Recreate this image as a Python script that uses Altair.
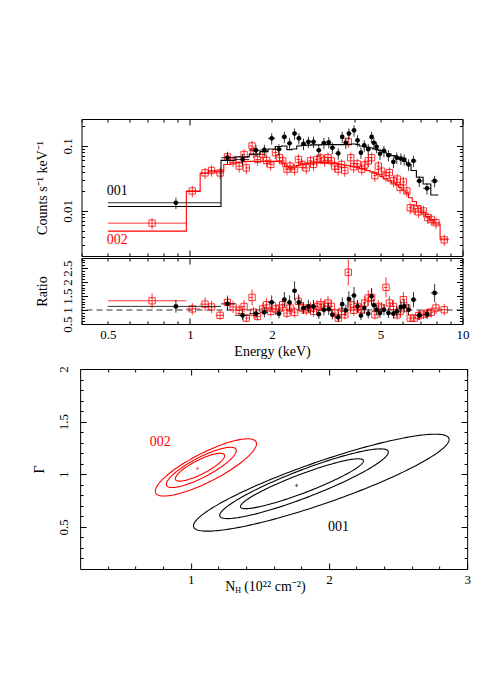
import numpy as np
import pandas as pd
import altair as alt

FONT = "Liberation Serif"
RED = "#ff0000"
BLACK = "#000000"

# ---------------- spectrum 001 (black) ----------------
energy_001 = [0.888, 1.373, 1.56, 1.747, 1.875, 1.995, 2.12, 2.22, 2.32, 2.42, 2.51, 2.61,
              2.72, 2.84, 2.97, 3.10, 3.23, 3.33, 3.50, 3.62, 3.73, 3.83, 4.00, 4.12, 4.24,
              4.36, 4.51, 4.64, 4.73, 4.84, 4.98, 5.15, 5.35, 5.58, 5.74, 5.94, 6.11, 6.34,
              6.61, 6.94, 7.41, 7.90]
counts_001 = [0.0134, 0.066, 0.062, 0.086, 0.087, 0.131, 0.089, 0.138, 0.110, 0.155, 0.131,
              0.108, 0.116, 0.116, 0.086, 0.111, 0.114, 0.094, 0.077, 0.138, 0.112, 0.155,
              0.174, 0.122, 0.079, 0.102, 0.089, 0.138, 0.112, 0.097, 0.076, 0.084, 0.072,
              0.057, 0.066, 0.064, 0.062, 0.052, 0.059, 0.029, 0.0223, 0.029]
model_001 = [0.0117, 0.060, 0.068, 0.075, 0.082, 0.090, 0.098, 0.100, 0.088, 0.090, 0.100,
             0.102, 0.103, 0.104, 0.104, 0.105, 0.105, 0.105, 0.105, 0.105, 0.106, 0.106,
             0.107, 0.106, 0.100, 0.098, 0.095, 0.093, 0.090, 0.088, 0.085, 0.081, 0.076,
             0.071, 0.067, 0.062, 0.058, 0.052, 0.042, 0.033, 0.026, 0.0176]
ratio_001 = [1.13, 1.22, 0.81, 0.87, 0.92, 1.27, 0.87, 1.37, 1.27, 1.69, 1.27, 1.07, 1.13,
             1.13, 0.85, 1.01, 1.03, 0.83, 0.74, 1.21, 0.99, 1.39, 1.52, 1.13, 0.80, 1.07,
             0.87, 1.49, 1.17, 1.01, 0.89, 1.01, 0.89, 0.87, 0.95, 1.11, 1.13, 1.01, 1.37,
             0.81, 0.85, 1.61]
first_edges_001 = [0.5, 1.3]
last_edge_001 = 8.15
rel_err_001 = 0.2

# ---------------- spectrum 002 (red) ----------------
energy_002 = [0.726, 1.02, 1.136, 1.20, 1.29, 1.373, 1.44, 1.516, 1.58, 1.61, 1.69, 1.71,
              1.77, 1.85, 1.91, 1.98, 2.06, 2.13, 2.19, 2.27, 2.33, 2.42, 2.50, 2.58, 2.67,
              2.77, 2.84, 2.92, 3.02, 3.12, 3.21, 3.30, 3.40, 3.50, 3.60, 3.70, 3.81, 3.89,
              3.99, 4.11, 4.27, 4.38, 4.51, 4.64, 4.77, 4.91, 5.05, 5.24, 5.39, 5.58, 5.76,
              5.90, 6.07, 6.25, 6.43, 6.65, 6.90, 7.19, 7.46, 7.68, 7.99, 8.57]
counts_002 = [0.0065, 0.0203, 0.0385, 0.042, 0.0385, 0.068, 0.059, 0.049, 0.074, 0.046,
              0.100, 0.082, 0.062, 0.074, 0.060, 0.052, 0.079, 0.066, 0.059, 0.044, 0.049,
              0.044, 0.062, 0.052, 0.046, 0.059, 0.052, 0.062, 0.065, 0.060, 0.066, 0.059,
              0.049, 0.044, 0.052, 0.042, 0.116, 0.066, 0.048, 0.053, 0.044, 0.051, 0.059,
              0.066, 0.035, 0.049, 0.041, 0.035, 0.039, 0.029, 0.031, 0.023, 0.028, 0.0203,
              0.0112, 0.0108, 0.0097, 0.0100, 0.0079, 0.0074, 0.0066, 0.0036]
model_002 = [0.0049, 0.020, 0.038, 0.040, 0.041, 0.052, 0.055, 0.056, 0.057, 0.058, 0.058,
             0.058, 0.058, 0.058, 0.058, 0.057, 0.058, 0.058, 0.055, 0.048, 0.046, 0.047,
             0.050, 0.053, 0.054, 0.055, 0.055, 0.055, 0.056, 0.056, 0.056, 0.055, 0.054,
             0.053, 0.052, 0.051, 0.050, 0.049, 0.048, 0.047, 0.045, 0.044, 0.042, 0.040,
             0.038, 0.036, 0.034, 0.031, 0.029, 0.027, 0.025, 0.023, 0.021, 0.019, 0.016,
             0.014, 0.012, 0.0095, 0.0082, 0.0073, 0.0063, 0.0037]
ratio_002 = [1.33, 1.04, 1.21, 1.11, 0.81, 1.27, 1.11, 0.99, 1.13, 0.71, 1.45, 0.92, 0.77,
             1.04, 1.19, 0.95, 1.04, 1.07, 1.19, 0.89, 1.07, 0.92, 1.31, 1.07, 1.01, 1.07,
             0.95, 1.13, 1.19, 1.13, 1.25, 1.13, 0.89, 0.71, 0.95, 0.83, 2.35, 1.19, 0.99,
             1.13, 1.01, 1.25, 1.43, 1.45, 0.83, 1.13, 1.07, 1.81, 1.25, 1.13, 0.83, 0.95,
             1.37, 1.07, 0.71, 0.71, 0.80, 0.85, 0.89, 0.92, 1.07, 1.01]
first_edges_002 = [0.5, 0.97, 1.09]
last_edge_002 = 8.9
rel_err_002 = 0.2

# labels in spectrum panel (energy, counts)
spec_labels = ["001", "002"]
spec_label_e = [0.541, 0.541]
spec_label_c = [0.0203, 0.00354]

# ---------------- confidence contours ----------------
# ellipse: centre (cx, cy), conjugate half-diameters (ax, ay) and (0, b)
cont_series = ["001", "001", "001", "002", "002", "002"]
cont_cx = [1.805, 1.82, 1.945, 1.067, 1.077, 1.11]
cont_cy = [0.91, 0.91, 0.92, 1.067, 1.065, 1.065]
cont_ax = [0.445, 0.61, 0.925, 0.178, 0.253, 0.366]
cont_ay = [0.217, 0.30, 0.41, 0.109, 0.16, 0.225]
cont_b = [0.095, 0.14, 0.21, 0.075, 0.105, 0.153]
best_series = ["001", "002"]
best_nh = [1.766, 1.048]
best_gamma = [0.894, 1.055]
cont_label_text = ["002", "001"]
cont_label_nh = [0.78, 2.07]
cont_label_gamma = [1.305, 0.497]


def bin_edges(E, first_edges, last_edge):
    E = np.asarray(E, float)
    edges = np.empty(len(E) + 1)
    edges[1:-1] = np.sqrt(E[:-1] * E[1:])
    edges[-1] = last_edge
    for i, v in enumerate(first_edges):
        edges[i] = v
    return edges


def spectrum_frames(E, C, M, R, first_edges, last_edge, rel):
    ed = bin_edges(E, first_edges, last_edge)
    C = np.asarray(C, float)
    R = np.asarray(R, float)
    pts = pd.DataFrame({
        "E": E, "lo": ed[:-1], "hi": ed[1:],
        "C": C, "Clo": C * (1 - rel), "Chi": C * (1 + rel),
        "R": R, "Rlo": R * (1 - rel), "Rhi": R * (1 + rel),
    })
    rows = []
    for i in range(len(E)):
        rows.append({"E": ed[i], "M": M[i], "o": 2 * i})
        rows.append({"E": ed[i + 1], "M": M[i], "o": 2 * i + 1})
    return pts, pd.DataFrame(rows)


pts1, step1 = spectrum_frames(energy_001, counts_001, model_001, ratio_001,
                              first_edges_001, last_edge_001, rel_err_001)
pts2, step2 = spectrum_frames(energy_002, counts_002, model_002, ratio_002,
                              first_edges_002, last_edge_002, rel_err_002)

# ---------------- axes helpers ----------------
MAJ, MIN = 6, 3


def tick_axis(orient, offset, values, size):
    return alt.Axis(orient=orient, offset=offset, values=values, tickSize=size,
                    labels=False, domain=False, grid=False, title=None,
                    ticks=True, tickColor="black", tickWidth=1)


def lab_axis_x(values, title):
    return alt.Axis(orient="bottom", values=values, ticks=False, tickSize=0, domain=False,
                    grid=False, title=title, format="~g", labelFontSize=13,
                    titleFontSize=14, labelPadding=4, titlePadding=3,
                    labelOverlap=False, labelFlush=False)


def lab_axis_y(values, title, lpad, tpad):
    return alt.Axis(orient="left", values=values, ticks=False, tickSize=0, domain=False,
                    grid=False, title=title, format="~g", labelFontSize=13,
                    titleFontSize=14, labelPadding=lpad, titlePadding=tpad,
                    labelAngle=270, labelAlign="center", labelBaseline="bottom",
                    labelOverlap=False, labelFlush=False)


def panel(data_layers, xs, ys, w, h, xlab, ylab, xmaj, xmin, ymaj, ymin, anchor):
    def inv(xa, ya):
        return alt.Chart(anchor).mark_point(opacity=0).encode(
            x=alt.X("ax:Q", scale=xs, axis=xa),
            y=alt.Y("ay:Q", scale=ys, axis=ya))
    layers = list(data_layers) + [
        inv(xlab, ylab),
        inv(tick_axis("top", -h, xmaj, MAJ), tick_axis("right", -w, ymaj, MAJ)),
        inv(tick_axis("top", -h, xmin, MIN), tick_axis("right", -w, ymin, MIN)),
        inv(tick_axis("bottom", -h, xmaj, MAJ), tick_axis("left", -w, ymaj, MAJ)),
        inv(tick_axis("bottom", -h, xmin, MIN), tick_axis("left", -w, ymin, MIN)),
    ]
    return alt.layer(*layers).resolve_axis(x="independent", y="independent").properties(
        width=w, height=h)


W1, H1, H2 = 381, 137, 66
W3, H3 = 387, 200

xE = alt.Scale(type="log", domain=[0.4, 10], nice=False)
yC = alt.Scale(type="log", domain=[0.00203, 0.26], nice=False)
yR = alt.Scale(type="linear", domain=[0.5, 2.86], nice=False, zero=False)
xN = alt.Scale(type="linear", domain=[0.2, 3], nice=False, zero=False)
yG = alt.Scale(type="linear", domain=[0.1, 2], nice=False, zero=False)

e_major = [1, 10]
e_minor = [0.4, 0.5, 0.6, 0.7, 0.8, 0.9, 2, 3, 4, 5, 6, 7, 8, 9]

# ---------------- top panel ----------------
def spec_layers(pts, step, color, yfield, ylo, yhi, yscale, is_black, model=True):
    base = alt.Chart(pts)
    L = []
    if model:
        L.append(alt.Chart(step).mark_line(color=color, strokeWidth=1.1).encode(
            x=alt.X("E:Q", scale=xE, axis=None), y=alt.Y("M:Q", scale=yscale, axis=None),
            order="o:Q"))
    L.append(base.mark_rule(color=color, strokeWidth=1, opacity=0.8).encode(
        x=alt.X("lo:Q", scale=xE, axis=None), x2="hi:Q",
        y=alt.Y(yfield + ":Q", scale=yscale, axis=None)))
    L.append(base.mark_rule(color=color, strokeWidth=1, opacity=0.8).encode(
        x=alt.X("E:Q", scale=xE, axis=None),
        y=alt.Y(ylo + ":Q", scale=yscale, axis=None), y2=yhi + ":Q"))
    if is_black:
        L.append(base.mark_point(shape="circle", filled=True, size=22, color=color, opacity=1).encode(
            x=alt.X("E:Q", scale=xE, axis=None), y=alt.Y(yfield + ":Q", scale=yscale, axis=None)))
    else:
        L.append(base.mark_point(shape="square", filled=False, size=40, color=color,
                                 strokeWidth=1, opacity=0.8).encode(
            x=alt.X("E:Q", scale=xE, axis=None), y=alt.Y(yfield + ":Q", scale=yscale, axis=None)))
    return L


lab_df = pd.DataFrame({"t": spec_labels, "E": spec_label_e, "C": spec_label_c})
spec_text = alt.Chart(lab_df).mark_text(font=FONT, fontSize=14, align="center",
                                         baseline="middle").encode(
    x=alt.X("E:Q", scale=xE, axis=None), y=alt.Y("C:Q", scale=yC, axis=None),
    text="t:N",
    color=alt.Color("t:N", scale=alt.Scale(domain=["001", "002"], range=[BLACK, RED]),
                    legend=None))

top_layers = (spec_layers(pts2, step2, RED, "C", "Clo", "Chi", yC, False)
              + spec_layers(pts1, step1, BLACK, "C", "Clo", "Chi", yC, True)
              + [spec_text])
top = panel(top_layers, xE, yC, W1, H1, None,
            lab_axis_y([0.01, 0.1], "Counts s\u207b\u00b9 keV\u207b\u00b9", 7, 12),
            e_major, e_minor, [0.01, 0.1],
            [0.003, 0.004, 0.005, 0.006, 0.007, 0.008, 0.009,
             0.02, 0.03, 0.04, 0.05, 0.06, 0.07, 0.08, 0.09, 0.2],
            pd.DataFrame({"ax": [1.0], "ay": [0.05]}))

# ---------------- ratio panel ----------------
dash = alt.Chart(pd.DataFrame({"one": [1.0]})).mark_rule(
    color="#333333", strokeDash=[6, 4], strokeWidth=1).encode(
    y=alt.Y("one:Q", scale=yR, axis=None))
ratio_layers = ([dash]
                + spec_layers(pts2, step2, RED, "R", "Rlo", "Rhi", yR, False, model=False)
                + spec_layers(pts1, step1, BLACK, "R", "Rlo", "Rhi", yR, True, model=False))
ratio = panel(ratio_layers, xE, yR, W1, H2,
              lab_axis_x([0.5, 1, 2, 5, 10], "Energy (keV)"),
              lab_axis_y([0.5, 1, 1.5, 2, 2.5], "Ratio", 7, 12),
              e_major, e_minor, [0.5, 1, 1.5, 2, 2.5],
              [0.6, 0.7, 0.8, 0.9, 1.1, 1.2, 1.3, 1.4, 1.6, 1.7, 1.8, 1.9, 2.1, 2.2,
               2.3, 2.4, 2.6, 2.7, 2.8],
              pd.DataFrame({"ax": [1.0], "ay": [1.0]}))

# ---------------- contour panel ----------------
t = np.linspace(0, 2 * np.pi, 181)
rows = []
for k in range(len(cont_series)):
    for j, tt in enumerate(t):
        rows.append({
            "id": k, "s": cont_series[k], "o": j,
            "nh": cont_cx[k] + cont_ax[k] * np.cos(tt),
            "g": cont_cy[k] + cont_ay[k] * np.cos(tt) + cont_b[k] * np.sin(tt),
        })
cont_df = pd.DataFrame(rows)
col_scale = alt.Scale(domain=["001", "002"], range=[BLACK, RED])

contours = alt.Chart(cont_df).mark_line(strokeWidth=1.1).encode(
    x=alt.X("nh:Q", scale=xN, axis=None), y=alt.Y("g:Q", scale=yG, axis=None),
    detail="id:N", order="o:Q", color=alt.Color("s:N", scale=col_scale, legend=None))
best = alt.Chart(pd.DataFrame({"s": best_series, "nh": best_nh, "g": best_gamma})).mark_point(
    shape="M-1,0L1,0M0,-1L0,1", size=12, strokeWidth=0.8, filled=False).encode(
    x=alt.X("nh:Q", scale=xN, axis=None), y=alt.Y("g:Q", scale=yG, axis=None),
    color=alt.Color("s:N", scale=col_scale, legend=None))
cont_text = alt.Chart(pd.DataFrame({"t": cont_label_text, "nh": cont_label_nh,
                                    "g": cont_label_gamma})).mark_text(
    font=FONT, fontSize=14, align="center", baseline="middle").encode(
    x=alt.X("nh:Q", scale=xN, axis=None), y=alt.Y("g:Q", scale=yG, axis=None), text="t:N",
    color=alt.Color("t:N", scale=col_scale, legend=None))

one = pd.DataFrame({"a": [0]})
nh_title = [
    alt.Chart(one).mark_text(text="N", font=FONT, fontSize=14, align="left",
                             baseline="alphabetic", color="black").encode(
        x=alt.value(145), y=alt.value(222)),
    alt.Chart(one).mark_text(text="H", font=FONT, fontSize=8, align="left",
                             baseline="alphabetic", color="black").encode(
        x=alt.value(155), y=alt.value(224)),
    alt.Chart(one).mark_text(text="(10\u00b2\u00b2 cm\u207b\u00b2)", font=FONT, fontSize=14,
                             align="left", baseline="alphabetic", color="black").encode(
        x=alt.value(164), y=alt.value(222)),
]

contour = panel([contours, best, cont_text] + nh_title, xN, yG, W3, H3,
                lab_axis_x([1, 2, 3], " "),
                lab_axis_y([0.5, 1, 1.5, 2], "\u0393", 10, 11),
                [1, 2, 3],
                [0.4, 0.6, 0.8, 1.2, 1.4, 1.6, 1.8, 2.2, 2.4, 2.6, 2.8],
                [0.5, 1, 1.5, 2],
                [0.2, 0.3, 0.4, 0.6, 0.7, 0.8, 0.9, 1.1, 1.2, 1.3, 1.4, 1.6, 1.7, 1.8, 1.9],
                pd.DataFrame({"ax": [1.0], "ay": [1.0]}))

inner = alt.vconcat(top, ratio, spacing=0)
chart = alt.vconcat(inner, contour, spacing=6, center=True).properties(
    padding={"left": 23, "top": 110, "right": 5, "bottom": 5}
).configure_view(stroke="black", strokeWidth=1).configure_axis(
    labelFont=FONT, titleFont=FONT, labelColor="black", titleColor="black",
    titleFontWeight="normal"
).configure_text(font=FONT)

chart.save("out.html", embed_options={"renderer": "svg", "actions": False})
